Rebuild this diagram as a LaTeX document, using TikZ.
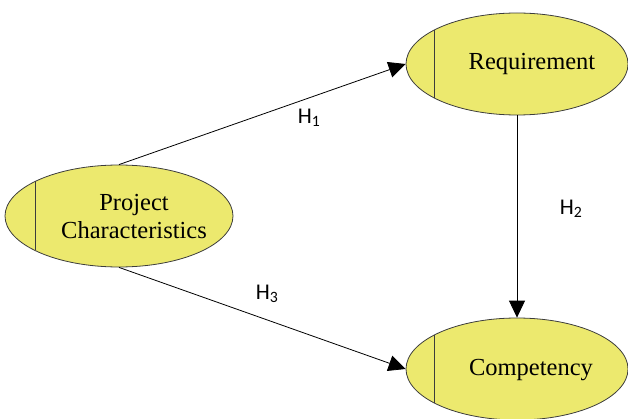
\documentclass[tikz,border=0pt]{standalone}
\usepackage{fontspec}
\setmainfont{Liberation Serif}
\newfontfamily\hfont{Carlito}
\usetikzlibrary{arrows.meta,shapes.geometric}
\definecolor{ellfill}{RGB}{236,233,110}
\definecolor{ellline}{RGB}{60,60,60}
\tikzset{
  ell/.style={ellipse, draw=ellline, line width=0.8pt, fill=ellfill, inner sep=0pt},
  etext/.style={font=\fontsize{24.5}{28}\selectfont, align=center, inner sep=0pt},
  hlab/.style={font=\hfont\fontsize{22.5}{24}\selectfont, inner sep=0pt},
  conn/.style={line width=0.8pt, -{Triangle[length=17pt,width=16pt]}},
  chord/.style={draw=ellline, line width=0.8pt}
}
\begin{document}
\begin{tikzpicture}[x=1pt,y=-1pt]
\useasboundingbox (0,0) rectangle (628,419);
\clip (0,0) rectangle (628,419);
\node[ell, minimum width=228pt, minimum height=102pt] (pc) at (119,216) {};
\node[ell, minimum width=222pt, minimum height=102pt] (req) at (517,64) {};
\node[ell, minimum width=222pt, minimum height=102pt] (comp) at (517,369) {};
\draw[chord] ([shift={(-84,-34.5)}]pc.center) -- ([shift={(-84,34.5)}]pc.center);
\draw[chord] ([shift={(-83,-34)}]req.center) -- ([shift={(-83,34)}]req.center);
\draw[chord] ([shift={(-83,-34)}]comp.center) -- ([shift={(-83,34)}]comp.center);
\node[etext] (pct) at (134,217) {Project\\Characteristics};
\node[etext] (reqt) at (532,64) {Requirement};
\node[etext] (compt) at (531,370) {Competency};
\draw[conn] (pc.north) -- (req.west);
\draw[conn] (pc.south) -- (comp.west);
\draw[conn] (req.south) -- (comp.north);
\node[hlab] (h1) at (309,118) {H\textsubscript{1}};
\node[hlab] (h2) at (571,209) {H\textsubscript{2}};
\node[hlab] (h3) at (267,294) {H\textsubscript{3}};
\end{tikzpicture}
\end{document}
